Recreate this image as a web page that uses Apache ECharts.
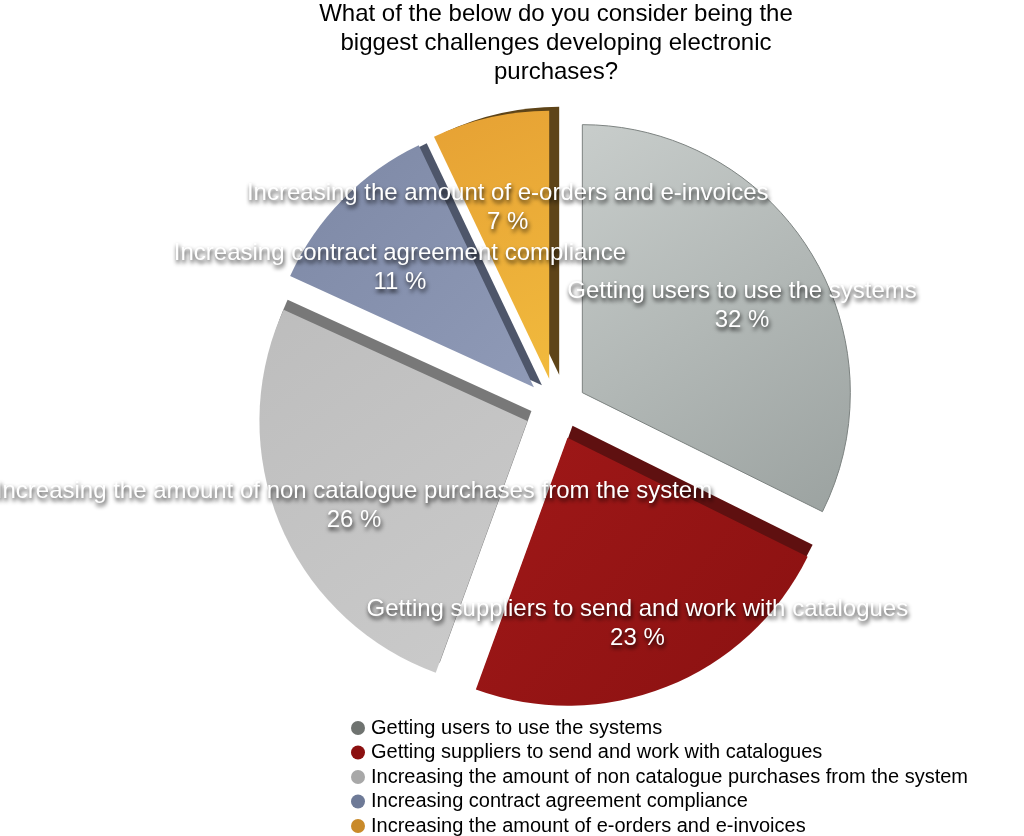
<!DOCTYPE html>
<html>

<head>
  <meta charset="utf-8" />
  <title>Biggest challenges developing electronic purchases</title>
  <script src="https://cdn.jsdelivr.net/npm/echarts@6/dist/echarts.min.js"></script>
</head>

<body style="margin:0;">
  <div id="chart" style="width:1024px;height:836px;"></div>
  <script type="text/javascript">

    // Inline data
    let categories = [
      'Getting users to use the systems',
      'Getting suppliers to send and work with catalogues',
      'Increasing the amount of non catalogue purchases from the system',
      'Increasing contract agreement compliance',
      'Increasing the amount of e-orders and e-invoices'
    ];
    let percents = [32, 23, 26, 11, 7];

    // Slice look: gradient stops, side face (shadow) colour and offset
    let sliceColors = [
      ['#c8cdcb', '#9ba2a0'],
      ['#a01818', '#8a1111'],
      ['#bdbdbd', '#cbcbcb'],
      ['#7d88a5', '#8f9ab7'],
      ['#e6a134', '#f1ba3d']
    ];
    let sideColors = ['rgba(0,0,0,0)', '#5f1010', '#787878', '#4e566a', '#5e4418'];
    let sideOffsets = [[0, 0], [5, -12], [4, -10], [8, -2], [10, -4]];
    let legendColors = ['#6f7370', '#8b1010', '#a8a8a8', '#6e7a97', '#c98a2a'];

    var chart = echarts.init(document.getElementById('chart'));

    var pieCenter = [556, 409];
    var labelCenter = [556, 421];
    var fontFamily = '"Liberation Sans", Arial, Helvetica, sans-serif';

    var sliceData = categories.map(function (name, i) {
      return {
        name: name,
        value: percents[i],
        selected: true,
        itemStyle: {
          color: new echarts.graphic.LinearGradient(0, 0, 1, 1, [
            { offset: 0, color: sliceColors[i][0] },
            { offset: 1, color: sliceColors[i][1] }
          ]),
          borderColor: i === 0 ? '#7d8381' : 'rgba(0,0,0,0)',
          borderWidth: i === 0 ? 1 : 0,
          shadowColor: sideColors[i],
          shadowBlur: 0,
          shadowOffsetX: sideOffsets[i][0],
          shadowOffsetY: sideOffsets[i][1]
        }
      };
    });

    var labelData = categories.map(function (name, i) {
      return { name: name, value: percents[i] };
    });

    var option = {
      animation: false,
      title: {
        text: 'What of the below do you consider being the\nbiggest challenges developing electronic\npurchases?',
        left: 556,
        top: 0,
        padding: 0,
        textAlign: 'center',
        textStyle: {
          fontFamily: fontFamily,
          fontSize: 24,
          fontWeight: 'normal',
          lineHeight: 29,
          color: '#000'
        }
      },
      legend: {
        orient: 'vertical',
        left: 351,
        top: 718,
        padding: 0,
        icon: 'circle',
        itemWidth: 16,
        itemHeight: 14,
        itemGap: 4.5,
        selectedMode: false,
        itemStyle: { borderWidth: 0 },
        data: categories.map(function (name, i) {
          return { name: name, itemStyle: { color: legendColors[i], borderWidth: 0 } };
        }),
        textStyle: {
          fontFamily: fontFamily,
          fontSize: 20,
          lineHeight: 20,
          color: '#000'
        }
      },
      series: [
        {
          name: 'Challenges',
          type: 'pie',
          center: pieCenter,
          radius: 268,
          startAngle: 90,
          clockwise: true,
          selectedMode: 'multiple',
          selectedOffset: 31,
          silent: true,
          label: { show: false },
          labelLine: { show: false },
          data: sliceData
        },
        {
          // label ring, same slices, only carries the texts
          name: 'Labels',
          type: 'pie',
          z: 5,
          center: labelCenter,
          radius: [201, 231],
          startAngle: 90,
          clockwise: true,
          silent: true,
          avoidLabelOverlap: false,
          labelLayout: { hideOverlap: false },
          itemStyle: { color: 'rgba(0,0,0,0)' },
          label: {
            show: true,
            position: 'inside',
            formatter: '{b}\n{c} %',
            fontFamily: fontFamily,
            fontSize: 24,
            lineHeight: 29,
            color: '#fff',
            textShadowColor: 'rgba(0,0,0,0.85)',
            textShadowBlur: 4,
            textShadowOffsetX: 1,
            textShadowOffsetY: 3
          },
          labelLine: { show: false },
          data: labelData
        }
      ]
    };

    chart.setOption(option);
  </script>
</body>

</html>
